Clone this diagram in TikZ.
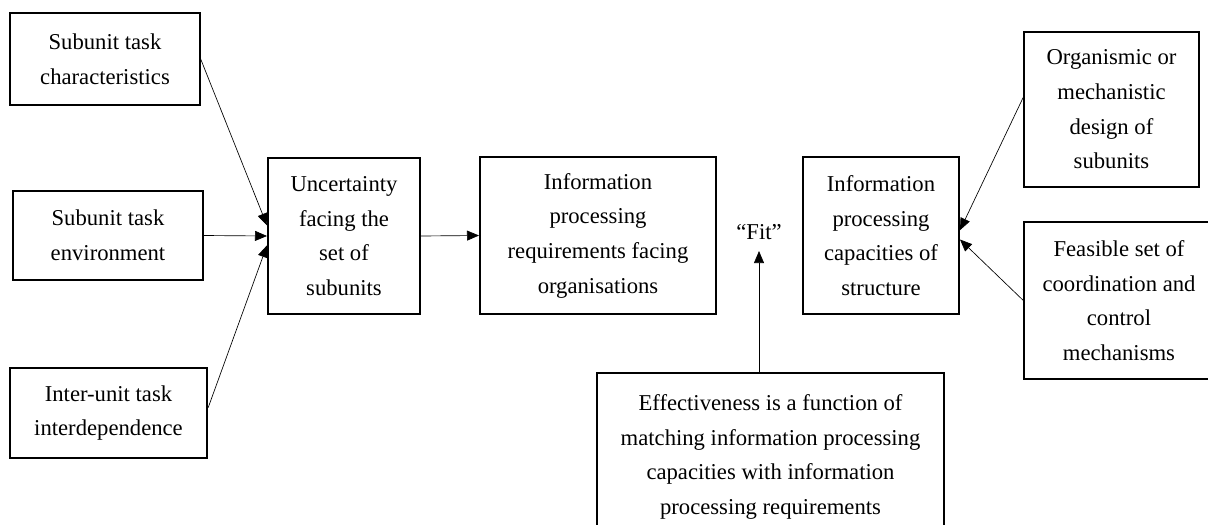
\documentclass[tikz,border=0pt]{standalone}
\usepackage{fontspec}
\setmainfont{Liberation Serif}
\usetikzlibrary{arrows.meta}
\begin{document}
\begin{tikzpicture}[x=0.75pt, y=-0.75pt,
	box/.style={draw, line width=1.5pt, align=center, inner sep=0pt, font=\fontsize{17}{26}\selectfont},
	arr/.style={-{Triangle[length=9pt, width=7.5pt]}, line width=0.5pt}]
	\clip (0,0) rectangle (1208,525);
	\node [box, minimum width=142pt, minimum height=69pt] (task) at (105,59) {Subunit task\\characteristics};
	\node [box, minimum width=142pt, minimum height=67pt] (env) at (108,235.5) {Subunit task\\environment};
	\node [box, minimum width=148pt, minimum height=67pt] (inter) at (108.5,413) {Inter-unit task\\interdependence};
	\node [box, minimum width=114pt, minimum height=117pt] (unc) at (344,236) {Uncertainty\\facing the\\set of\\subunits};
	\node [box, minimum width=177pt, minimum height=118pt] (req) at (598,235.5) {Information\\processing\\requirements facing\\organisations};
	\node [font=\fontsize{17}{26}\selectfont] (fit) at (759,232) {``Fit''};
	\node [box, minimum width=117pt, minimum height=118pt] (cap) at (881,235.5) {Information\\processing\\capacities of\\structure};
	\node [box, minimum width=131pt, minimum height=116pt] (design) at (1111.5,109.5) {Organismic or\\mechanistic\\design of\\subunits};
	\node [box, minimum width=142pt, minimum height=118pt] (mech) at (1119,300.5) {Feasible set of\\coordination and\\control\\mechanisms};
	\node [box, minimum width=260pt, minimum height=126pt] (eff) at (770.5,457) {Effectiveness is a function of\\matching information processing\\capacities with information\\processing requirements};
	\draw [arr] (task.east) -- ([yshift=8pt]unc.west);
	\draw [arr] (env.east) -- (unc.west);
	\draw [arr] ([yshift=4pt]inter.east) -- ([yshift=-7pt]unc.west);
	\draw [arr] (unc.east) -- (req.west);
	\draw [arr, shorten >=5pt] (fit.south |- eff.north) -- (fit.south);
	\draw [arr] ([yshift=9pt]design.west) -- ([yshift=4pt]cap.east);
	\draw [arr] (mech.west) -- ([yshift=-3pt]cap.east);
\end{tikzpicture}
\end{document}
